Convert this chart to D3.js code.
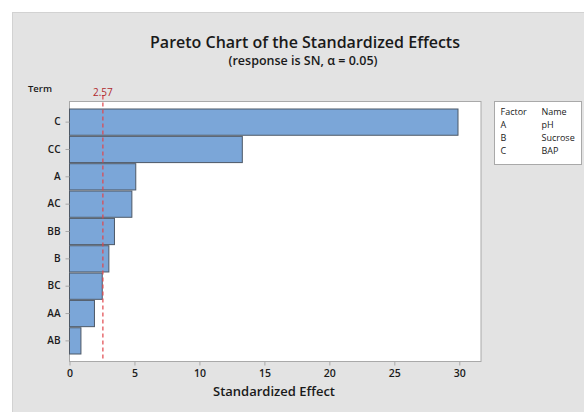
<!DOCTYPE html>
<html>
<head>
<meta charset="utf-8">
<script src="https://cdn.jsdelivr.net/npm/d3@7"></script>
<style>
  html, body { margin: 0; padding: 0; background: #ffffff; }
  svg { display: block; }
  text { font-family: "Open Sans", "Noto Sans", sans-serif; fill: #1a1a1a; }
</style>
</head>
<body>
<svg id="chart" width="584" height="412"></svg>
<script>
// Terms, ordered from largest to smallest standardized effect
const terms = ["C", "CC", "A", "AC", "BB", "B", "BC", "AA", "AB"];
const effects = [29.9, 13.3, 5.1, 4.8, 3.46, 3.03, 2.52, 1.92, 0.88];
const xTicks = [0, 5, 10, 15, 20, 25, 30];
const criticalValue = 2.57;
const factorCodes = ["A", "B", "C"];
const factorNames = ["pH", "Sucrose", "BAP"];

const svg = d3.select("#chart");

// Grey chart panel
svg.append("rect")
  .attr("x", 12.5).attr("y", 12.5)
  .attr("width", 600).attr("height", 420)
  .attr("fill", "#e3e3e3").attr("stroke", "#d2d2d2");

const plot = { left: 69.5, top: 101.5, right: 481, bottom: 361.5 };

const x = d3.scaleLinear().domain([0, 31.67]).range([plot.left, plot.right]);
const y = d3.scaleBand().domain(terms)
  .range([plot.top + 7.5, plot.bottom - 7.5])
  .paddingInner(0.04);

// Plot area
svg.append("rect")
  .attr("x", plot.left).attr("y", plot.top)
  .attr("width", plot.right - plot.left).attr("height", plot.bottom - plot.top)
  .attr("fill", "#ffffff").attr("stroke", "#a9a9a9");

// Bars
svg.append("g").selectAll("rect")
  .data(terms)
  .join("rect")
  .attr("x", x(0))
  .attr("y", d => y(d))
  .attr("width", (d, i) => x(effects[i]) - x(0))
  .attr("height", y.bandwidth())
  .attr("fill", "#7ba6d8")
  .attr("stroke", "#4d5866")
  .attr("stroke-width", 1);

// Reference line at the critical t value
svg.append("line")
  .attr("x1", x(criticalValue)).attr("x2", x(criticalValue))
  .attr("y1", plot.top - 6).attr("y2", plot.bottom)
  .attr("stroke", "#e0474c").attr("stroke-width", 1.2)
  .attr("stroke-dasharray", "4,3");
svg.append("text")
  .attr("x", x(criticalValue)).attr("y", 96)
  .attr("text-anchor", "middle")
  .attr("font-size", 10).style("fill", "#b0282e")
  .text(d3.format(".2f")(criticalValue));

// X axis
const xAxis = svg.append("g")
  .attr("transform", `translate(0,${plot.bottom})`)
  .call(d3.axisBottom(x).tickValues(xTicks).tickSize(4).tickPadding(4));
xAxis.select(".domain").remove();
xAxis.selectAll(".tick line").attr("stroke", "#a9a9a9");
xAxis.selectAll(".tick text")
  .attr("font-size", 10.5).attr("font-weight", 600).style("fill", "#1a1a1a")
  .style("font-family", "'Open Sans', sans-serif");

// Y axis
const yAxis = svg.append("g")
  .attr("transform", `translate(${plot.left},0)`)
  .call(d3.axisLeft(y).tickSize(4).tickPadding(5));
yAxis.select(".domain").remove();
yAxis.selectAll(".tick line").attr("stroke", "#a9a9a9");
yAxis.selectAll(".tick text")
  .attr("font-size", 10).attr("font-weight", 600).style("fill", "#1a1a1a")
  .style("font-family", "'Open Sans', sans-serif");

// Axis titles
svg.append("text")
  .attr("x", 40).attr("y", 92)
  .attr("text-anchor", "middle")
  .attr("font-size", 9.5).attr("font-weight", 600)
  .text("Term");
svg.append("text")
  .attr("x", 274).attr("y", 396)
  .attr("text-anchor", "middle")
  .attr("font-size", 13).attr("font-weight", 600)
  .text("Standardized Effect");

// Titles
svg.append("text")
  .attr("x", 305).attr("y", 48)
  .attr("text-anchor", "middle")
  .attr("font-size", 16).attr("font-weight", 600)
  .text("Pareto Chart of the Standardized Effects");
svg.append("text")
  .attr("x", 303).attr("y", 65)
  .attr("text-anchor", "middle")
  .attr("font-size", 12.5).attr("font-weight", 600)
  .text("(response is SN, \u03b1 = 0.05)");

// Factor legend
const lg = svg.append("g").attr("transform", "translate(494.5,101.5)");
lg.append("rect")
  .attr("width", 87).attr("height", 63)
  .attr("fill", "#ffffff").attr("stroke", "#a9a9a9");
const rows = [["Factor", "Name"]].concat(factorCodes.map((c, i) => [c, factorNames[i]]));
rows.forEach((r, i) => {
  lg.append("text").attr("x", 6).attr("y", 13 + i * 13)
    .attr("font-size", 9).attr("font-weight", 500).text(r[0]);
  lg.append("text").attr("x", 47).attr("y", 13 + i * 13)
    .attr("font-size", 9).attr("font-weight", 500).text(r[1]);
});
</script>
</body>
</html>
